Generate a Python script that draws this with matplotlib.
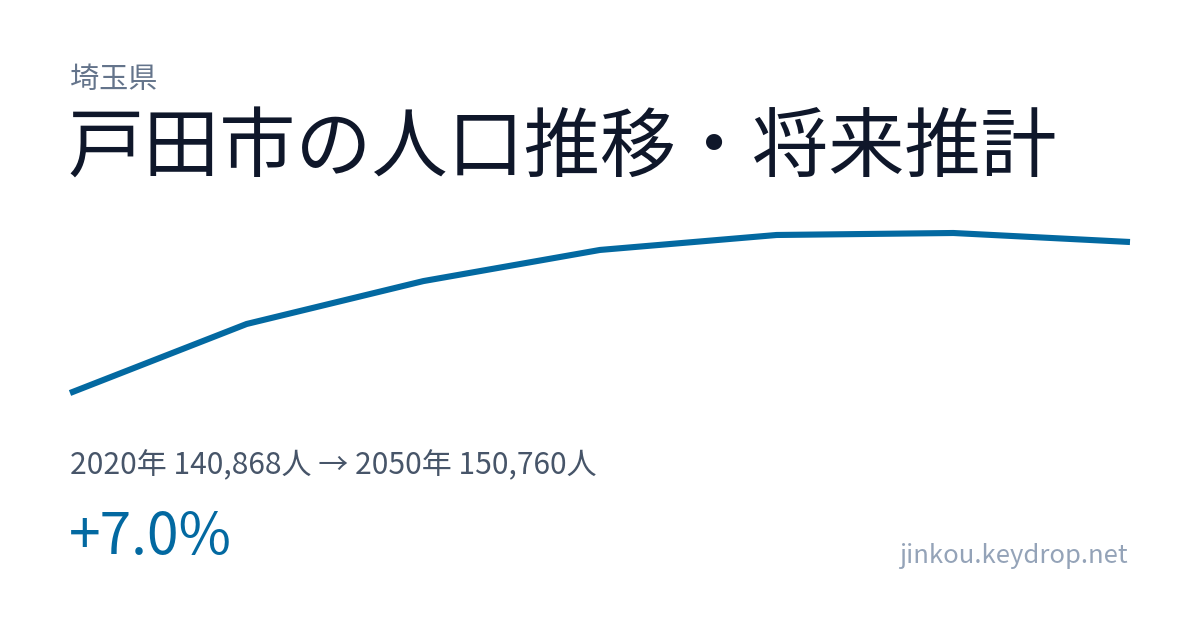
import matplotlib
matplotlib.use("Agg")
import matplotlib.pyplot as plt

years = [2020, 2025, 2030, 2035, 2040, 2045, 2050]
population = [140868, 145390, 148200, 150240, 151220, 151350, 150760]

prefecture = "埼玉県"
title = "戸田市の人口推移・将来推計"
summary = "2020年 140,868人 → 2050年 150,760人"
change = "+7.0%"
site = "jinkou.keydrop.net"

plt.rcParams['font.family'] = ['Noto Sans CJK JP', 'DejaVu Sans']

W, H = 1200, 630
fig = plt.figure(figsize=(W / 100, H / 100), dpi=100)
fig.patch.set_facecolor("white")

def fx(px):
    return px / W

def fy(py):
    return 1 - py / H

# line axes: x from 70 to 1130 px, y from 233 (max) to 393 (min)
ax = fig.add_axes([fx(70), fy(393), fx(1130) - fx(70), fy(233) - fy(393)])
ax.plot(years, population, color="#0369a1", lw=4.4, clip_on=False, solid_capstyle="butt", solid_joinstyle="miter")
ax.set_xlim(min(years), max(years))
ax.set_ylim(min(population), max(population))
ax.axis("off")

fig.text(fx(70), fy(80), prefecture, fontsize=21, color="#64748b", va="center", ha="left")
fig.text(fx(67), fy(150), title, fontsize=54.8, color="#0f172a", va="center", ha="left")
fig.text(fx(70), fy(466), summary, fontsize=21.6, color="#475569", va="center", ha="left")
fig.text(fx(69), fy(538), change, fontsize=41, color="#0369a1", va="center", ha="left")
fig.text(fx(1128), fy(556), site, fontsize=18.5, color="#94a3b8", va="center", ha="right")

fig.savefig("out.png", dpi=100, facecolor="white")
